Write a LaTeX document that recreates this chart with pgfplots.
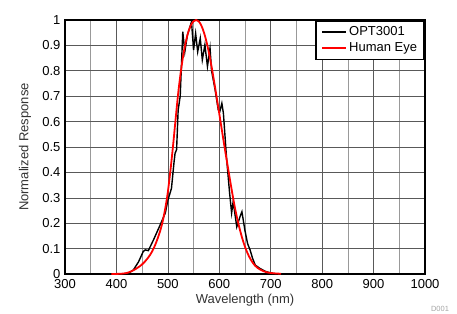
\documentclass[border=0pt]{standalone}
\usepackage{fontspec}
\setmainfont{Liberation Sans}
\usepackage{pgfplots}
\pgfplotsset{compat=1.18}
\begin{document}
\begin{tikzpicture}
\useasboundingbox (0pt,0pt) rectangle (457pt,313pt);
\begin{axis}[at={(65pt,39pt)}, anchor=south west, width=360pt, height=254pt, scale only axis,
  xmin=300, xmax=1000, ymin=0, ymax=1,
  xtick={300,400,...,1000}, minor xtick={350,450,...,950},
  ytick={0,0.1,0.2,0.3,0.4,0.5,0.6,0.7,0.8,0.9,1},
  yticklabels={0,0.1,0.2,0.3,0.4,0.5,0.6,0.7,0.8,0.9,1},
  grid=both,
  major grid style={black!65, line width=0.6pt},
  minor grid style={black!40, line width=0.6pt},
  axis line style={line width=1.8pt},
  tick style={draw=none},
  /pgf/number format/assume math mode=true,
  /pgf/number format/1000 sep={},
  ticklabel style={font=\fontsize{13}{15}\selectfont},
  xticklabel style={yshift=-2pt},
  yticklabel style={xshift=-1pt},
  xlabel={Wavelength (nm)}, ylabel={Normalized Response},
  label style={font=\fontsize{13}{15}\selectfont, text=black!80},
  xlabel style={at={(axis description cs:0.5,-0.104)}, anchor=center},
  ylabel style={at={(axis description cs:-0.111,0.5)}, anchor=center},
  legend style={at={(1,1)}, anchor=north east, draw=black, line width=1.8pt,
    font=\fontsize{13}{15}\selectfont, row sep=1.5pt, inner xsep=5pt, inner ysep=4pt},
  legend image code/.code={\draw[#1] (0pt,0pt) -- (24pt,0pt);},
  legend cell align=left,
]
\addplot[black, line width=1.4pt] coordinates {
(400,0)(420,0)(425,0.005)(433,0.016)(443,0.048)(452,0.088)(456,0.095)(462,0.092)
(472,0.134)(485,0.193)(495,0.24)(500,0.29)(507,0.337)(512,0.44)(514,0.475)(517,0.49)
(520,0.645)(524,0.70)(526,0.80)(529,0.954)(533,0.875)(538,0.941)(546,0.993)(550,0.882)
(554,0.947)(558,0.875)(563,0.928)(567,0.843)(572,0.902)(577,0.817)(582,0.889)(585,0.80)
(592,0.724)(598,0.646)(601,0.64)(605,0.672)(608,0.633)(614,0.46)(620,0.32)(622,0.28)
(624,0.24)(627,0.285)(634,0.186)(641,0.23)(644,0.245)(650,0.17)(655,0.12)(660,0.094)
(665,0.06)(670,0.035)(679,0.022)(690,0.01)(702,0.003)(710,0)(720,0)
};
\addlegendentry{OPT3001}
\addplot[red, line width=1.8pt, smooth] coordinates {
(390,0.00012)(400,0.0004)(410,0.0012)(420,0.004)(425,0.0073)(430,0.0116)(435,0.01684)
(440,0.023)(445,0.0298)(450,0.038)(455,0.048)(460,0.06)(465,0.0739)(470,0.091)
(475,0.1126)(480,0.139)(485,0.1693)(490,0.208)(495,0.2586)(500,0.323)(505,0.4073)
(510,0.503)(515,0.6082)(520,0.71)(525,0.7932)(530,0.862)(535,0.9149)(540,0.954)
(545,0.9803)(550,0.995)(555,1.0)(560,0.995)(565,0.9786)(570,0.952)(575,0.9154)
(580,0.87)(585,0.8163)(590,0.757)(595,0.6949)(600,0.631)(605,0.5668)(610,0.503)
(615,0.4412)(620,0.381)(625,0.321)(630,0.265)(635,0.217)(640,0.175)(645,0.1382)
(650,0.107)(655,0.0816)(660,0.061)(665,0.0446)(670,0.032)(675,0.0232)(680,0.017)
(685,0.0119)(690,0.0082)(695,0.0057)(700,0.0041)(710,0.0021)(720,0.00105)
};
\addlegendentry{Human Eye}
\end{axis}
\node[font=\fontsize{7.5}{8}\selectfont, text=black!35] at (440pt,4pt) {D001};
\end{tikzpicture}
\end{document}
